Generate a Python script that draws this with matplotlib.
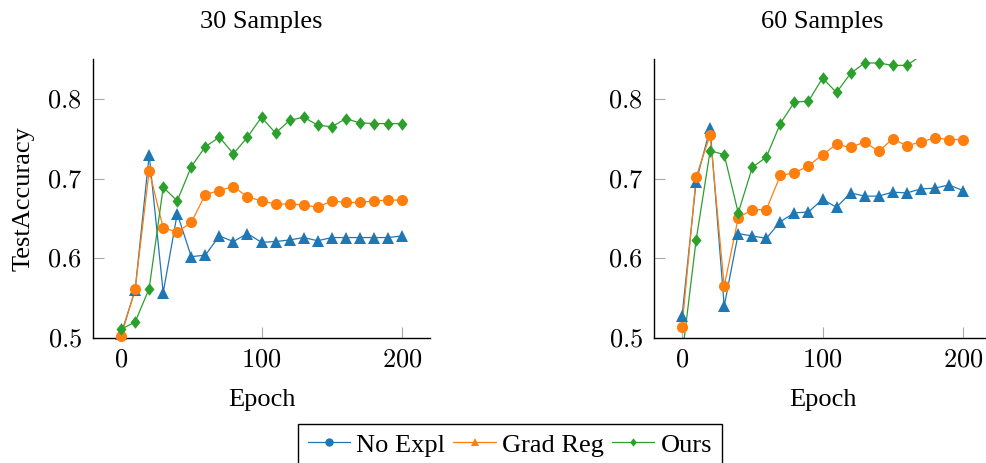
import numpy as np
import matplotlib

matplotlib.use("Agg")
import matplotlib.pyplot as plt
from matplotlib.lines import Line2D
from matplotlib.ticker import FuncFormatter

epochs = list(range(0, 201, 10))

# 30 samples
no_expl_30 = [0.505, 0.560, 0.730, 0.557, 0.656, 0.602, 0.604, 0.628, 0.621, 0.631, 0.620,
              0.621, 0.623, 0.626, 0.622, 0.626, 0.626, 0.626, 0.626, 0.626, 0.628]
grad_reg_30 = [0.502, 0.561, 0.710, 0.638, 0.633, 0.645, 0.680, 0.685, 0.690, 0.677, 0.672,
               0.668, 0.668, 0.667, 0.664, 0.672, 0.670, 0.670, 0.672, 0.673, 0.673]
ours_30 = [0.511, 0.520, 0.562, 0.689, 0.672, 0.715, 0.740, 0.752, 0.731, 0.752, 0.777,
           0.757, 0.773, 0.777, 0.767, 0.765, 0.775, 0.770, 0.769, 0.769, 0.769]

# 60 samples
no_expl_60 = [0.528, 0.696, 0.763, 0.540, 0.631, 0.628, 0.625, 0.646, 0.657, 0.658, 0.674,
              0.664, 0.682, 0.678, 0.678, 0.683, 0.682, 0.687, 0.688, 0.692, 0.685]
grad_reg_60 = [0.514, 0.702, 0.755, 0.565, 0.651, 0.661, 0.661, 0.704, 0.707, 0.716, 0.730,
               0.743, 0.739, 0.746, 0.734, 0.750, 0.741, 0.746, 0.751, 0.749, 0.749]
ours_60 = [0.477, 0.623, 0.735, 0.730, 0.657, 0.714, 0.727, 0.769, 0.796, 0.797, 0.826,
           0.808, 0.832, 0.845, 0.845, 0.842, 0.842, 0.854, 0.858, 0.856, 0.860]

titles = ["30 Samples", "60 Samples"]
labels = ["No Expl", "Grad Reg", "Ours"]
colors = ["#1f77b4", "#ff7f0e", "#2ca02c"]

# pgfplots-like diamond (wider than matplotlib's thin diamond)
DIAMOND = [(0, 1), (0.8, 0), (0, -1), (-0.8, 0), (0, 1)]
markers = ["^", "o", DIAMOND]          # markers drawn in the plot
legend_markers = ["o", "^", DIAMOND]   # markers shown in the legend (as in the original)
msizes = [8, 8, 9]

YLIM = (0.5, 0.85)
XLIM = (-20, 220)
FS = 19


def plot_init():
    plt.rc("font", family="serif", size=FS)
    plt.rc("font", serif=["Liberation Serif", "DejaVu Serif"])
    plt.rc("mathtext", fontset="cm")
    plt.rc("axes", linewidth=1.0)


def draw_panel(ax, series, title):
    for vals, c, m, ms in zip(series, colors, markers, msizes):
        y = np.array(vals)
        ax.plot(epochs, y, color=c, lw=0.9, zorder=2)
        inside = np.ma.masked_outside(y, YLIM[0] - 0.01, YLIM[1])
        ax.plot(epochs, inside, ls="none", marker=m, ms=ms, color=c,
                markeredgewidth=0, clip_on=False, zorder=3)

    ax.set_xlim(*XLIM)
    ax.set_ylim(*YLIM)
    ax.set_xticks([0, 100, 200])
    ax.set_yticks([0.5, 0.6, 0.7, 0.8])
    ax.xaxis.set_major_formatter(FuncFormatter(lambda v, p: f"${v:.0f}$"))
    ax.yaxis.set_major_formatter(FuncFormatter(lambda v, p: f"${v:.1f}$"))
    ax.tick_params(direction="in", length=8, width=0.8, color="#aaaaaa",
                   labelsize=FS)
    ax.tick_params(axis="y", pad=8)
    ax.tick_params(axis="x", pad=8)
    for s in ["top", "right"]:
        ax.spines[s].set_visible(False)
    ax.set_title(title, fontsize=FS, pad=22)
    ax.set_xlabel("Epoch", fontsize=FS, labelpad=13)


plot_init()
fig = plt.figure(figsize=(9.86, 4.63), dpi=100)
W, H = 986, 463
ax1 = fig.add_axes([93 / W, (H - 338) / H, 337 / W, 279 / H])
ax2 = fig.add_axes([654 / W, (H - 338) / H, 337 / W, 279 / H])

draw_panel(ax1, [no_expl_30, grad_reg_30, ours_30], titles[0])
draw_panel(ax2, [no_expl_60, grad_reg_60, ours_60], titles[1])
ax1.set_ylabel("TestAccuracy", fontsize=FS, labelpad=9)

handles = [Line2D([], [], color=c, lw=0.9, marker=m, ms=6, markeredgewidth=0)
           for c, m in zip(colors, legend_markers)]
fig.legend(handles, labels, loc="upper center", bbox_to_anchor=(510 / W, 1 - 424 / H),
           ncol=3, frameon=True, fancybox=False, edgecolor="black", framealpha=1,
           handlelength=1.6, handletextpad=0.25, columnspacing=0.3, borderpad=0.35,
           borderaxespad=0, fontsize=FS)

fig.savefig("out.png", dpi=100)
